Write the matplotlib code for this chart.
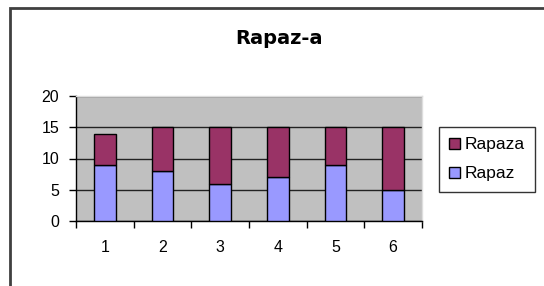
import matplotlib
matplotlib.use("Agg")
import matplotlib.pyplot as plt
from matplotlib.patches import Rectangle
import numpy as np

categories = ["1", "2", "3", "4", "5", "6"]
rapaz = [9, 8, 6, 7, 9, 5]
rapaza = [5, 7, 9, 8, 6, 10]
yticks = [0, 5, 10, 15, 20]

plt.rcParams['font.family'] = ['Liberation Sans', 'DejaVu Sans']

W, H = 544, 286
fig = plt.figure(figsize=(W/100, H/100), dpi=100)
fig.patch.set_facecolor('white')

# outer chart frame
fig.patches.append(Rectangle((10/W, -0.2), 1.2, 1 - 8/H + 0.2, transform=fig.transFigure,
                             fill=False, edgecolor='#404040', linewidth=2))

ax = fig.add_axes([76/W, 65/H, 346/W, 125/H])
ax.set_facecolor('#C0C0C0')
x = np.arange(len(categories))
b1 = ax.bar(x, rapaz, width=0.38, color='#9999FF', edgecolor='black', linewidth=1, label='Rapaz', zorder=3)
b2 = ax.bar(x, rapaza, bottom=rapaz, width=0.38, color='#993366', edgecolor='black', linewidth=1, label='Rapaza', zorder=3)

ax.set_xlim(-0.5, len(categories) - 0.5)
ax.set_ylim(0, 20)
ax.set_yticks(yticks)
ax.set_yticklabels([str(v) for v in yticks], fontsize=11.5)
ax.yaxis.grid(True, color='#222222', linewidth=1, zorder=1)
ax.set_axisbelow(True)

ax.set_xticks(np.arange(-0.5, len(categories)), minor=False)
ax.set_xticklabels([])
ax.set_xticks(x, minor=True)
ax.set_xticklabels(categories, minor=True, fontsize=11.5)
ax.tick_params(axis='x', which='major', length=5, width=1, direction='out', color='black')
ax.tick_params(axis='x', which='minor', length=0, pad=14)
ax.tick_params(axis='y', length=5, width=1, direction='out', pad=7, color='black')

for s in ['top', 'right']:
    ax.spines[s].set_color('#dddddd')
    ax.spines[s].set_linewidth(1)
for s in ['left', 'bottom']:
    ax.spines[s].set_color('black')
    ax.spines[s].set_linewidth(1)

fig.text(279/W, 1 - 39/H, "Rapaz-a", ha='center', va='center', fontsize=14,
         fontweight='bold', family=['DejaVu Sans'])

leg = fig.legend([b2, b1], ['Rapaza', 'Rapaz'], loc='upper left',
                 bbox_to_anchor=(439/W, 1 - 127/H), fontsize=12.5, frameon=True,
                 fancybox=False, edgecolor='black', handlelength=0.6, handleheight=0.6,
                 handletextpad=0.25, borderpad=0.6, labelspacing=0.8, borderaxespad=0)
leg.get_frame().set_linewidth(1)

fig.savefig("out.png", dpi=100)
